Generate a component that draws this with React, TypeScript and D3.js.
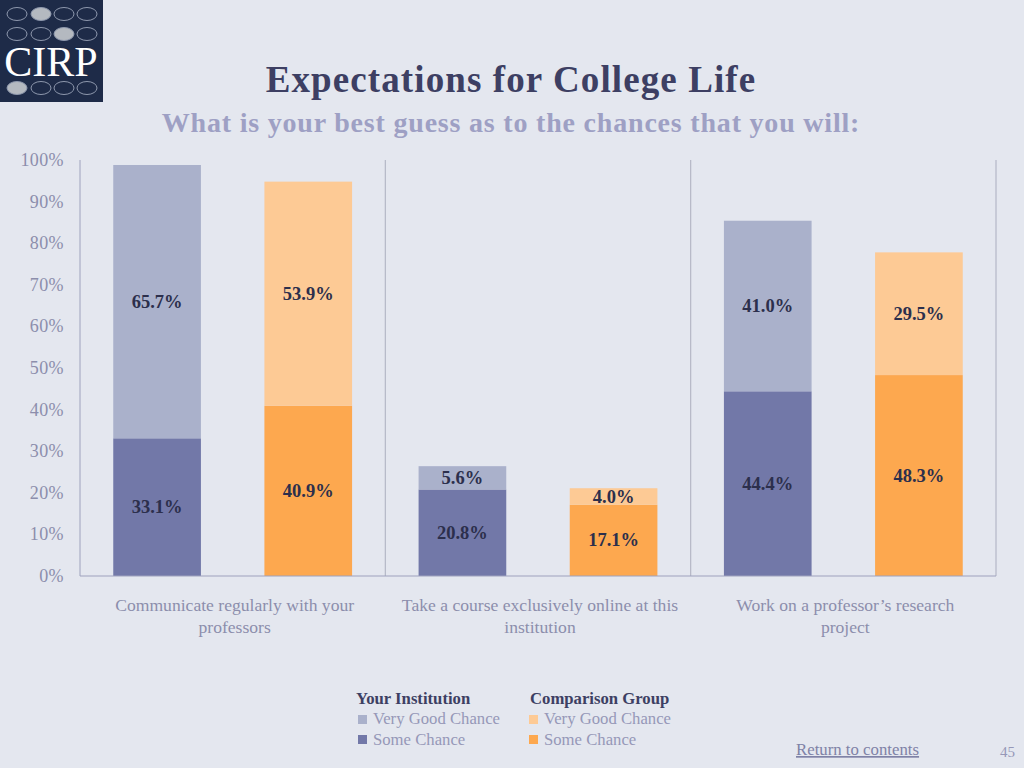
import React from "react";
import * as d3 from "d3";

const categories = [
  ["Communicate regularly with your", "professors"],
  ["Take a course exclusively online at this", "institution"],
  ["Work on a professor\u2019s research", "project"],
];
const instSome = [33.1, 20.8, 44.4];
const instVeryGood = [65.7, 5.6, 41.0];
const compSome = [40.9, 17.1, 48.3];
const compVeryGood = [53.9, 4.0, 29.5];
const yTicks = [0, 10, 20, 30, 40, 50, 60, 70, 80, 90, 100];
const groups = ["inst", "comp"];

const W = 1024, H = 768;
const left = 80, right = 996, top = 160, bottom = 576;
const serif = "'Liberation Serif', 'DejaVu Serif', serif";

const colors = {
  instVG: "#aab1cb",
  instSome: "#7278a8",
  compVG: "#fdca95",
  compSome: "#fda84f",
};

export default function App() {
  const x = d3.scaleBand<number>().domain([0, 1, 2]).range([left, right]).padding(0);
  const inner = d3.scaleBand<string>().domain(groups).range([0, x.bandwidth()]).paddingInner(0.42).paddingOuter(0.22);
  const y = d3.scaleLinear().domain([0, 100]).range([bottom, top]);

  const bars: any[] = [];
  categories.forEach((_, i) => {
    groups.forEach((g) => {
      const some = g === "inst" ? instSome[i] : compSome[i];
      const vg = g === "inst" ? instVeryGood[i] : compVeryGood[i];
      const bx = (x(i) as number) + (inner(g) as number);
      const bw = inner.bandwidth();
      bars.push({ key: `${i}-${g}-s`, x: bx, w: bw, y0: 0, y1: some, v: some, fill: g === "inst" ? colors.instSome : colors.compSome });
      bars.push({ key: `${i}-${g}-v`, x: bx, w: bw, y0: some, y1: some + vg, v: vg, fill: g === "inst" ? colors.instVG : colors.compVG });
    });
  });

  const oval = (cx: number, cy: number, filled: boolean, k: string) => (
    <ellipse key={k} cx={cx} cy={cy} rx={10} ry={6.5} fill={filled ? "#b4b9c0" : "none"} stroke="#8e98ad" strokeWidth={1} />
  );
  const ovalRows = [
    { cy: 14, filled: 1 },
    { cy: 34, filled: 2 },
    { cy: 88, filled: 0 },
  ];
  const ovalX = [17, 41, 64, 87];

  return (
    <svg width={W} height={H} style={{ position: "absolute", left: 0, top: 0 }} fontFamily={serif}>
      <rect x={0} y={0} width={W} height={H} fill="#e4e7ef" />
      {/* Logo */}
      <rect x={0} y={0} width={103} height={102} fill="#1e2b48" />
      {ovalRows.map((r, ri) => ovalX.map((cx, ci) => oval(cx, r.cy, ci === r.filled, `o${ri}-${ci}`)))}
      <text x={51} y={76} textAnchor="middle" fill="#ffffff" fontSize={42} fontFamily={serif}>CIRP</text>

      {/* Titles */}
      <text x={511} y={92} textAnchor="middle" fill="#3d3f63" fontSize={37} fontWeight="bold" letterSpacing={1.1}>Expectations for College Life</text>
      <text x={511} y={132} textAnchor="middle" fill="#9ea0c4" fontSize={28} fontWeight="bold" letterSpacing={0.8}>What is your best guess as to the chances that you will:</text>

      {/* Y axis ticks */}
      {yTicks.map((t) => (
        <text key={t} x={64} y={y(t) + 6} textAnchor="end" fill="#8c8eac" fontSize={18} letterSpacing={0.4}>{t}%</text>
      ))}
      {/* Axes and dividers */}
      <line x1={left} x2={left} y1={top} y2={bottom} stroke="#9ea2bd" strokeWidth={1} />
      {[1, 2, 3].map((i) => (
        <line key={i} x1={left + i * x.bandwidth()} x2={left + i * x.bandwidth()} y1={top} y2={bottom} stroke="#b4b7c6" strokeWidth={1.2} />
      ))}
      {bars.map((b) => (
        <rect key={b.key} x={b.x} y={y(b.y1)} width={b.w} height={y(b.y0) - y(b.y1)} fill={b.fill} />
      ))}
      <line x1={left} x2={right} y1={bottom} y2={bottom} stroke="#9ea2bd" strokeWidth={1.2} />
      {bars.map((b) => (
        <text key={b.key + "t"} x={b.x + b.w / 2} y={(y(b.y0) + y(b.y1)) / 2 + 6} textAnchor="middle" fill="#2c2f4c" fontSize={18.5} fontWeight="bold">
          {b.v.toFixed(1)}%
        </text>
      ))}

      {/* Category labels */}
      {categories.map((lines, i) => (
        <text key={i} textAnchor="middle" fill="#8c8eac" fontSize={17.6}>
          {lines.map((l, j) => (
            <tspan key={j} x={(x(i) as number) + x.bandwidth() / 2 + 2} y={611 + j * 22}>{l}</tspan>
          ))}
        </text>
      ))}

      {/* Legend */}
      <text x={356} y={704} fill="#3d3f63" fontSize={16.7} fontWeight="bold">Your Institution</text>
      <rect x={358} y={715} width={9} height={9} fill={colors.instVG} />
      <text x={373} y={724} fill="#9698b8" fontSize={16.7}>Very Good Chance</text>
      <rect x={358} y={735} width={9} height={9} fill={colors.instSome} />
      <text x={373} y={745} fill="#9698b8" fontSize={16.7}>Some Chance</text>

      <text x={530} y={704} fill="#3d3f63" fontSize={16.7} fontWeight="bold">Comparison Group</text>
      <rect x={529} y={715} width={9} height={9} fill={colors.compVG} />
      <text x={544} y={724} fill="#9698b8" fontSize={16.7}>Very Good Chance</text>
      <rect x={529} y={735} width={9} height={9} fill={colors.compSome} />
      <text x={544} y={745} fill="#9698b8" fontSize={16.7}>Some Chance</text>

      {/* Footer */}
      <text x={796} y={755} fill="#7f82a6" fontSize={16.8} textDecoration="underline">Return to contents</text>
      <text x={1015} y={757} textAnchor="end" fill="#9698b8" fontSize={15}>45</text>
    </svg>
  );
}
